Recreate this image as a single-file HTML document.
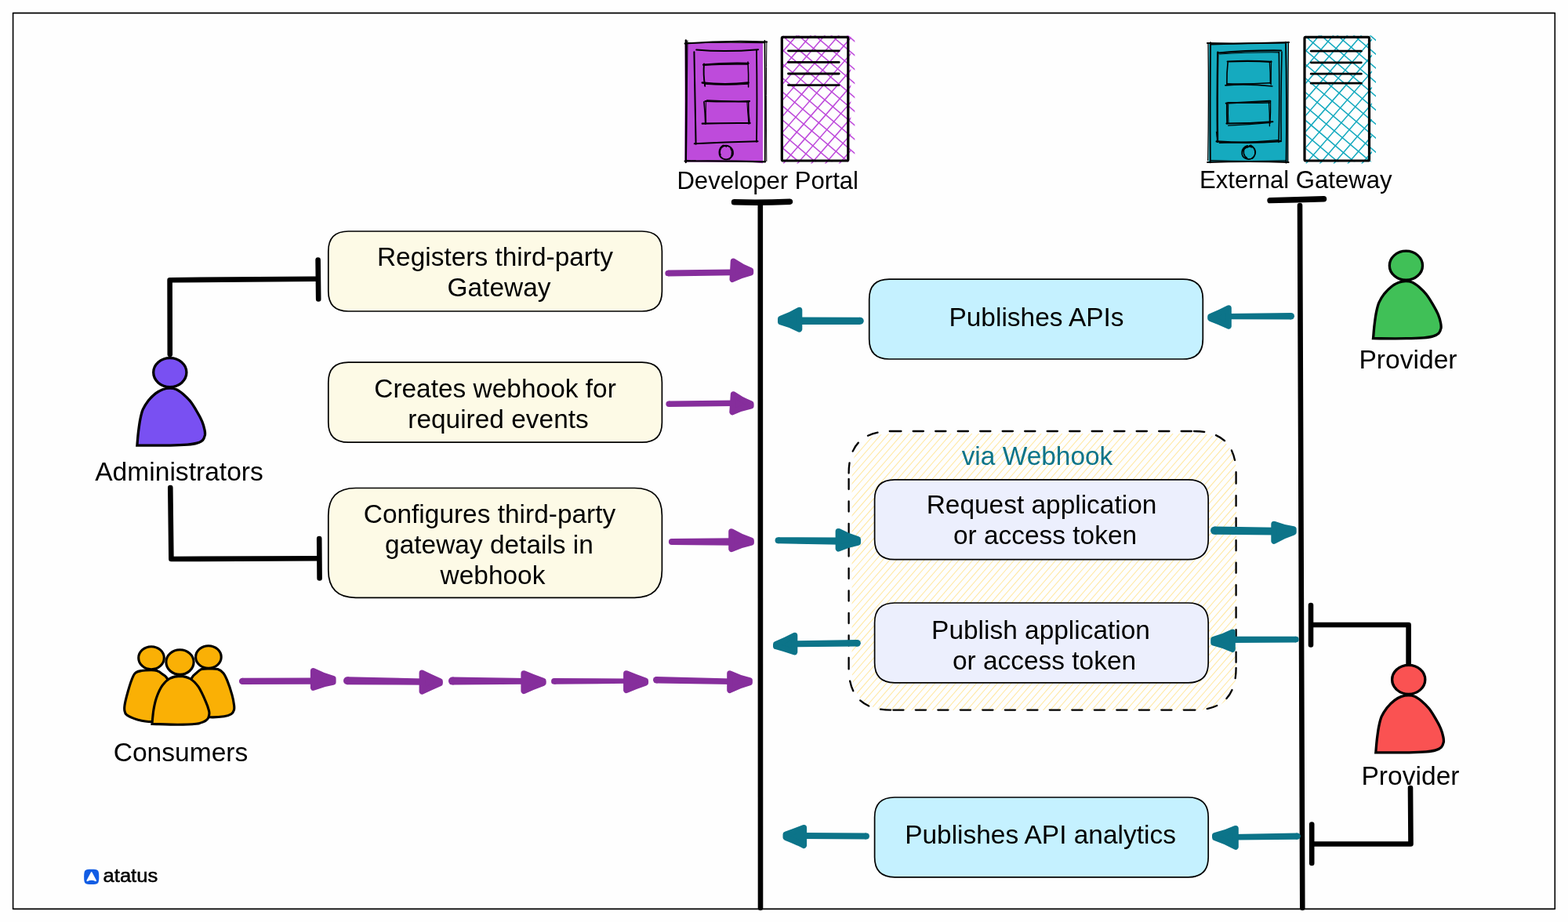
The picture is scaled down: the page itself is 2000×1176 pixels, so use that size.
<!DOCTYPE html>
<html lang="en">
<head>
<meta charset="utf-8">
<title>Developer Portal and External Gateway flow</title>
<style>
html,body{margin:0;padding:0;background:#fefefe;}
body{width:2000px;height:1176px;overflow:hidden;}
svg{display:block;will-change:transform;font-family:"Liberation Sans",Arial,Helvetica,sans-serif;}
</style>
</head>
<body>
<svg width="2000" height="1176" viewBox="0 0 2000 1176">
<rect x="16.6" y="16.6" width="1966.7" height="1142.8" fill="none" stroke="#000" stroke-width="1.6" stroke-linejoin="round"/>
<clipPath id="wc"><path d="M1138.20 553.00L1525.40 553.00Q1577.00 553.00 1577.00 604.60L1577.00 854.20Q1577.00 905.80 1525.40 905.80L1138.20 905.80Q1086.60 905.80 1086.60 854.20L1086.60 604.60Q1086.60 553.00 1138.20 553.00Z"/></clipPath>
<path d="M763.4 907.6L1076.1 548.0M772.2 907.6L1084.9 548.0M781.1 907.6L1093.8 548.0M789.9 907.6L1102.6 548.0M798.7 907.6L1111.4 548.0M807.6 907.6L1120.3 548.0M816.4 907.6L1129.1 548.0M825.3 907.6L1138.0 548.0M834.1 907.6L1146.8 548.0M842.9 907.6L1155.6 548.0M851.8 907.6L1164.5 548.0M860.6 907.6L1173.3 548.0M869.5 907.6L1182.2 548.0M878.3 907.6L1191.0 548.0M887.1 907.6L1199.8 548.0M896.0 907.6L1208.7 548.0M904.8 907.6L1217.5 548.0M913.7 907.6L1226.4 548.0M922.5 907.6L1235.2 548.0M931.3 907.6L1244.0 548.0M940.2 907.6L1252.9 548.0M949.0 907.6L1261.7 548.0M957.9 907.6L1270.6 548.0M966.7 907.6L1279.4 548.0M975.5 907.6L1288.2 548.0M984.4 907.6L1297.1 548.0M993.2 907.6L1305.9 548.0M1002.1 907.6L1314.8 548.0M1010.9 907.6L1323.6 548.0M1019.7 907.6L1332.4 548.0M1028.6 907.6L1341.3 548.0M1037.4 907.6L1350.1 548.0M1046.3 907.6L1359.0 548.0M1055.1 907.6L1367.8 548.0M1063.9 907.6L1376.6 548.0M1072.8 907.6L1385.5 548.0M1081.6 907.6L1394.3 548.0M1090.5 907.6L1403.2 548.0M1099.3 907.6L1412.0 548.0M1108.1 907.6L1420.8 548.0M1117.0 907.6L1429.7 548.0M1125.8 907.6L1438.5 548.0M1134.7 907.6L1447.4 548.0M1143.5 907.6L1456.2 548.0M1152.3 907.6L1465.0 548.0M1161.2 907.6L1473.9 548.0M1170.0 907.6L1482.7 548.0M1178.9 907.6L1491.6 548.0M1187.7 907.6L1500.4 548.0M1196.5 907.6L1509.2 548.0M1205.4 907.6L1518.1 548.0M1214.2 907.6L1526.9 548.0M1223.1 907.6L1535.8 548.0M1231.9 907.6L1544.6 548.0M1240.7 907.6L1553.4 548.0M1249.6 907.6L1562.3 548.0M1258.4 907.6L1571.1 548.0M1267.3 907.6L1580.0 548.0M1276.1 907.6L1588.8 548.0M1284.9 907.6L1597.6 548.0M1293.8 907.6L1606.5 548.0M1302.6 907.6L1615.3 548.0M1311.5 907.6L1624.2 548.0M1320.3 907.6L1633.0 548.0M1329.1 907.6L1641.8 548.0M1338.0 907.6L1650.7 548.0M1346.8 907.6L1659.5 548.0M1355.7 907.6L1668.4 548.0M1364.5 907.6L1677.2 548.0M1373.3 907.6L1686.0 548.0M1382.2 907.6L1694.9 548.0M1391.0 907.6L1703.7 548.0M1399.9 907.6L1712.6 548.0M1408.7 907.6L1721.4 548.0M1417.5 907.6L1730.2 548.0M1426.4 907.6L1739.1 548.0M1435.2 907.6L1747.9 548.0M1444.1 907.6L1756.8 548.0M1452.9 907.6L1765.6 548.0M1461.7 907.6L1774.4 548.0M1470.6 907.6L1783.3 548.0M1479.4 907.6L1792.1 548.0M1488.3 907.6L1801.0 548.0M1497.1 907.6L1809.8 548.0M1505.9 907.6L1818.6 548.0M1514.8 907.6L1827.5 548.0M1523.6 907.6L1836.3 548.0M1532.5 907.6L1845.2 548.0M1541.3 907.6L1854.0 548.0M1550.1 907.6L1862.8 548.0M1559.0 907.6L1871.7 548.0M1567.8 907.6L1880.5 548.0M1576.7 907.6L1889.4 548.0M1585.5 907.6L1898.2 548.0" stroke="#ffe8a3" stroke-width="1.05" fill="none" clip-path="url(#wc)"/>
<path d="M1136.20 550.00L1523.00 550.00M1523.00 550.00Q1576.60 550.00 1576.60 603.60M1576.60 603.60L1576.60 852.00M1576.60 852.00Q1576.60 905.60 1523.00 905.60M1523.00 905.60L1136.20 905.60M1136.20 905.60Q1082.60 905.60 1082.60 852.00M1082.60 852.00L1082.60 603.60M1082.60 603.60Q1082.60 550.00 1136.20 550.00" fill="none" stroke="#000" stroke-width="2.3" stroke-linecap="round" stroke-dasharray="13.2 15.3"/>
<path d="M969.8 260 L970 1158" stroke="#000" fill="none" stroke-linecap="round" stroke-linejoin="round" stroke-width="6.6"/>
<path d="M936.5 257.8 Q970 258.8 1007.5 257.2" stroke="#000" fill="none" stroke-linecap="round" stroke-linejoin="round" stroke-width="7.4"/>
<path d="M1658 262 L1661.3 1158" stroke="#000" fill="none" stroke-linecap="round" stroke-linejoin="round" stroke-width="6.6"/>
<path d="M1620 255.6 Q1655 255 1688.5 253.8" stroke="#000" fill="none" stroke-linecap="round" stroke-linejoin="round" stroke-width="7.4"/>
<path d="M216.8 452 L216.6 357.2 L404 355.8" stroke="#000" fill="none" stroke-linecap="round" stroke-linejoin="round" stroke-width="6.6"/>
<path d="M405.6 331.5 L406.2 381.5" stroke="#000" fill="none" stroke-linecap="round" stroke-linejoin="round" stroke-width="6.6"/>
<path d="M217.3 622 L218.4 713 L404 712.2" stroke="#000" fill="none" stroke-linecap="round" stroke-linejoin="round" stroke-width="6.6"/>
<path d="M407.2 687 L407.6 737.5" stroke="#000" fill="none" stroke-linecap="round" stroke-linejoin="round" stroke-width="6.6"/>
<path d="M1796.6 848 L1796.6 797 L1673 797" stroke="#000" fill="none" stroke-linecap="round" stroke-linejoin="round" stroke-width="6.6"/>
<path d="M1672 772 L1672 822.5" stroke="#000" fill="none" stroke-linecap="round" stroke-linejoin="round" stroke-width="6.6"/>
<path d="M1799 1005 L1799.5 1076.5 L1674 1076.5" stroke="#000" fill="none" stroke-linecap="round" stroke-linejoin="round" stroke-width="6.6"/>
<path d="M1673.2 1051.5 L1673.2 1101" stroke="#000" fill="none" stroke-linecap="round" stroke-linejoin="round" stroke-width="6.6"/>
<path d="M444.30 295.00L818.90 295.00Q844.40 295.00 844.40 320.50L844.40 371.50Q844.40 397.00 818.90 397.00L444.30 397.00Q418.80 397.00 418.80 371.50L418.80 320.50Q418.80 295.00 444.30 295.00Z" fill="#fdfae6" stroke="#000" stroke-width="1.7" />
<path d="M444.30 462.20L818.90 462.20Q844.40 462.20 844.40 487.70L844.40 538.70Q844.40 564.20 818.90 564.20L444.30 564.20Q418.80 564.20 418.80 538.70L418.80 487.70Q418.80 462.20 444.30 462.20Z" fill="#fdfae6" stroke="#000" stroke-width="1.7" />
<path d="M453.75 622.50L809.45 622.50Q844.40 622.50 844.40 657.45L844.40 727.35Q844.40 762.30 809.45 762.30L453.75 762.30Q418.80 762.30 418.80 727.35L418.80 657.45Q418.80 622.50 453.75 622.50Z" fill="#fdfae6" stroke="#000" stroke-width="1.7" />
<path d="M1134.15 356.20L1508.85 356.20Q1534.30 356.20 1534.30 381.65L1534.30 432.55Q1534.30 458.00 1508.85 458.00L1134.15 458.00Q1108.70 458.00 1108.70 432.55L1108.70 381.65Q1108.70 356.20 1134.15 356.20Z" fill="#c5f1ff" stroke="#000" stroke-width="1.7" />
<path d="M1141.05 611.80L1515.75 611.80Q1541.20 611.80 1541.20 637.25L1541.20 688.15Q1541.20 713.60 1515.75 713.60L1141.05 713.60Q1115.60 713.60 1115.60 688.15L1115.60 637.25Q1115.60 611.80 1141.05 611.80Z" fill="#eceffd" stroke="#000" stroke-width="1.7" />
<path d="M1141.05 769.00L1515.75 769.00Q1541.20 769.00 1541.20 794.45L1541.20 845.35Q1541.20 870.80 1515.75 870.80L1141.05 870.80Q1115.60 870.80 1115.60 845.35L1115.60 794.45Q1115.60 769.00 1141.05 769.00Z" fill="#eceffd" stroke="#000" stroke-width="1.7" />
<path d="M1141.05 1017.00L1515.75 1017.00Q1541.20 1017.00 1541.20 1042.45L1541.20 1093.35Q1541.20 1118.80 1515.75 1118.80L1141.05 1118.80Q1115.60 1118.80 1115.60 1093.35L1115.60 1042.45Q1115.60 1017.00 1141.05 1017.00Z" fill="#c5f1ff" stroke="#000" stroke-width="1.7" />
<text x="631.5" y="339" font-size="33.45" fill="#000" text-anchor="middle" >Registers third-party</text>
<text x="636.5" y="377.5" font-size="33.45" fill="#000" text-anchor="middle" >Gateway</text>
<text x="631.5" y="506.5" font-size="33.45" fill="#000" text-anchor="middle" >Creates webhook for</text>
<text x="635.5" y="545.5" font-size="33.45" fill="#000" text-anchor="middle" >required events</text>
<text x="624.5" y="667" font-size="33.45" fill="#000" text-anchor="middle" >Configures third-party</text>
<text x="624" y="706" font-size="33.45" fill="#000" text-anchor="middle" >gateway details in</text>
<text x="628.5" y="745" font-size="33.45" fill="#000" text-anchor="middle" >webhook</text>
<text x="1322" y="416" font-size="33.45" fill="#000" text-anchor="middle" >Publishes APIs</text>
<text x="1323" y="593" font-size="33.45" fill="#0c7489" text-anchor="middle" >via Webhook</text>
<text x="1328.5" y="655" font-size="33.45" fill="#000" text-anchor="middle" >Request application</text>
<text x="1333" y="694" font-size="33.45" fill="#000" text-anchor="middle" >or access token</text>
<text x="1327.5" y="815" font-size="33.45" fill="#000" text-anchor="middle" >Publish application</text>
<text x="1332" y="854" font-size="33.45" fill="#000" text-anchor="middle" >or access token</text>
<text x="1327" y="1076" font-size="33.45" fill="#000" text-anchor="middle" >Publishes API analytics</text>
<text x="979.2" y="240.7" font-size="31.1" fill="#000" text-anchor="middle" >Developer Portal</text>
<text x="1652.8" y="240.3" font-size="31.1" fill="#000" text-anchor="middle" >External Gateway</text>
<text x="228.5" y="613" font-size="33.6" fill="#000" text-anchor="middle" >Administrators</text>
<text x="230.5" y="970.6" font-size="33.6" fill="#000" text-anchor="middle" >Consumers</text>
<text x="1796" y="470" font-size="33.6" fill="#000" text-anchor="middle" >Provider</text>
<text x="1799" y="1001" font-size="33.6" fill="#000" text-anchor="middle" >Provider</text>
<circle cx="852.2" cy="348.5" r="3.85" fill="#862e9c"/>
<path d="M852.2 344.6L935.9 343.5L935.9 351.2L852.2 352.4Z" fill="#862e9c"/>
<path d="M935.5 333.4Q946.0 340.6 957.4 345.1L957.4 347.7Q945.3 350.6 934.3 356.2Z" fill="#862e9c" stroke="#862e9c" stroke-width="7.6" stroke-linejoin="round"/>
<circle cx="853.1" cy="515.2" r="3.70" fill="#862e9c"/>
<path d="M853.1 511.5L936.3 510.6L936.3 518.0L853.1 518.9Z" fill="#862e9c"/>
<path d="M935.6 503.0Q946.2 510.4 957.8 515.1L957.8 517.7Q945.4 520.2 934.1 525.5Z" fill="#862e9c" stroke="#862e9c" stroke-width="7.6" stroke-linejoin="round"/>
<circle cx="856.9" cy="691.0" r="4.00" fill="#862e9c"/>
<path d="M856.9 687.0L935.2 686.3L935.2 695.7L856.9 695.0Z" fill="#862e9c"/>
<path d="M933.0 678.0Q945.0 685.1 958.1 689.4L958.1 692.0Q945.0 694.7 933.0 700.2Z" fill="#862e9c" stroke="#862e9c" stroke-width="7.6" stroke-linejoin="round"/>
<circle cx="309.1" cy="868.9" r="4.20" fill="#862e9c"/>
<path d="M309.1 864.7L401.9 864.4L401.9 872.8L309.1 873.1Z" fill="#862e9c"/>
<path d="M399.7 855.9Q411.8 862.2 424.8 865.7L424.8 870.1Q411.8 872.1 399.7 877.0Z" fill="#862e9c" stroke="#862e9c" stroke-width="7.6" stroke-linejoin="round"/>
<circle cx="443.0" cy="868.2" r="5.00" fill="#862e9c"/>
<path d="M443.0 863.2L540.6 865.4L540.6 873.8L443.0 873.2Z" fill="#862e9c"/>
<path d="M538.4 858.4Q549.2 863.7 561.1 869.0L561.1 871.6Q549.2 876.8 538.4 881.9Z" fill="#862e9c" stroke="#862e9c" stroke-width="7.6" stroke-linejoin="round"/>
<circle cx="577.0" cy="868.6" r="5.00" fill="#862e9c"/>
<path d="M577.0 863.6L670.4 865.0L670.4 872.8L577.0 873.6Z" fill="#862e9c"/>
<path d="M668.2 859.1Q680.0 864.2 692.9 868.7L692.9 871.3Q680.0 876.0 668.2 881.2Z" fill="#862e9c" stroke="#862e9c" stroke-width="7.6" stroke-linejoin="round"/>
<circle cx="706.9" cy="868.9" r="3.85" fill="#862e9c"/>
<path d="M706.9 865.0L801.1 865.4L801.1 871.8L706.9 872.8Z" fill="#862e9c"/>
<path d="M798.9 859.1Q810.6 864.0 823.3 868.3L823.3 870.9Q810.6 875.2 798.9 880.2Z" fill="#862e9c" stroke="#862e9c" stroke-width="7.6" stroke-linejoin="round"/>
<circle cx="837.2" cy="867.2" r="4.20" fill="#862e9c"/>
<path d="M837.2 863.0L933.2 865.4L933.2 873.1L837.2 871.4Z" fill="#862e9c"/>
<path d="M931.0 859.1Q943.0 864.9 956.1 868.0L956.1 870.6Q943.0 874.0 931.0 880.2Z" fill="#862e9c" stroke="#862e9c" stroke-width="7.6" stroke-linejoin="round"/>
<circle cx="1097.2" cy="409.3" r="4.55" fill="#0c7489"/>
<path d="M1097.2 404.8L1017.3 404.5L1017.3 414.1L1097.2 413.9Z" fill="#0c7489"/>
<path d="M1019.5 395.6Q1008.1 402.5 995.8 406.6L995.8 410.6Q1008.1 413.8 1019.5 419.8Z" fill="#0c7489" stroke="#0c7489" stroke-width="7.6" stroke-linejoin="round"/>
<circle cx="1646.8" cy="403.2" r="4.20" fill="#0c7489"/>
<path d="M1646.8 399.0L1564.8 400.0L1564.8 407.2L1646.8 407.4Z" fill="#0c7489"/>
<path d="M1567.0 393.0Q1556.0 398.7 1544.0 403.7L1544.0 406.3Q1556.0 410.8 1567.0 415.9Z" fill="#0c7489" stroke="#0c7489" stroke-width="7.6" stroke-linejoin="round"/>
<circle cx="992.6" cy="689.3" r="4.00" fill="#0c7489"/>
<path d="M992.6 685.3L1071.6 685.4L1071.6 694.8L992.6 693.3Z" fill="#0c7489"/>
<path d="M1069.4 677.7Q1081.3 684.2 1094.2 688.0L1094.2 692.0Q1081.3 694.5 1069.4 699.8Z" fill="#0c7489" stroke="#0c7489" stroke-width="7.6" stroke-linejoin="round"/>
<circle cx="1549.2" cy="676.6" r="5.20" fill="#0c7489"/>
<path d="M1549.2 671.4L1627.3 672.8L1627.3 682.6L1549.2 681.8Z" fill="#0c7489"/>
<path d="M1625.1 668.5Q1637.0 673.1 1649.9 675.0L1649.9 679.0Q1637.0 683.1 1625.1 690.0Z" fill="#0c7489" stroke="#0c7489" stroke-width="7.6" stroke-linejoin="round"/>
<circle cx="1093.5" cy="820.3" r="4.35" fill="#0c7489"/>
<path d="M1093.5 815.9L1011.3 817.2L1011.3 825.2L1093.5 824.6Z" fill="#0c7489"/>
<path d="M1013.5 810.5Q1002.1 816.4 989.8 821.8L989.8 824.4Q1002.1 827.8 1013.5 831.6Z" fill="#0c7489" stroke="#0c7489" stroke-width="7.6" stroke-linejoin="round"/>
<circle cx="1652.9" cy="815.6" r="3.85" fill="#0c7489"/>
<path d="M1652.9 811.8L1569.8 811.7L1569.8 820.1L1652.9 819.5Z" fill="#0c7489"/>
<path d="M1572.0 806.4Q1560.5 812.4 1548.0 815.7L1548.0 819.7Q1560.5 822.6 1572.0 828.2Z" fill="#0c7489" stroke="#0c7489" stroke-width="7.6" stroke-linejoin="round"/>
<circle cx="1104.9" cy="1066.6" r="4.00" fill="#0c7489"/>
<path d="M1104.9 1062.6L1023.1 1062.1L1023.1 1070.1L1104.9 1070.6Z" fill="#0c7489"/>
<path d="M1025.3 1055.7Q1014.3 1060.2 1002.3 1064.3L1002.3 1068.3Q1014.3 1073.0 1025.3 1078.2Z" fill="#0c7489" stroke="#0c7489" stroke-width="7.6" stroke-linejoin="round"/>
<circle cx="1654.7" cy="1066.6" r="4.20" fill="#0c7489"/>
<path d="M1654.7 1062.4L1573.8 1063.9L1573.8 1071.5L1654.7 1070.8Z" fill="#0c7489"/>
<path d="M1576.0 1056.8Q1563.4 1062.7 1549.8 1065.7L1549.8 1068.3Q1563.4 1072.8 1576.0 1080.0Z" fill="#0c7489" stroke="#0c7489" stroke-width="7.6" stroke-linejoin="round"/>
<path d="M174.9 568.1C175.2 565.2 175.8 556.3 176.5 550.7C177.2 545.1 177.9 539.3 178.9 534.6C179.9 529.8 180.6 526.1 182.3 522.2C184.1 518.3 186.6 514.4 189.2 511.0C191.9 507.7 195.4 504.2 198.4 501.9C201.5 499.5 204.6 497.8 207.6 496.7C210.6 495.6 213.4 495.1 216.2 495.1C219.0 495.0 221.6 495.2 224.5 496.5C227.4 497.7 230.6 500.1 233.7 502.7C236.7 505.3 240.0 508.4 242.9 512.1C245.7 515.7 248.4 520.2 250.9 524.5C253.4 528.7 256.1 533.6 257.8 537.6C259.5 541.6 260.4 545.5 261.0 548.4C261.6 551.3 261.8 552.8 261.4 555.0C260.9 557.2 260.2 559.8 258.5 561.5C256.8 563.2 254.5 564.3 251.3 565.2C248.0 566.2 244.8 566.7 239.2 567.2C233.5 567.7 228.1 568.0 217.4 568.1C206.7 568.3 182.0 568.1 174.9 568.1Z" fill="#7950f2" stroke="#000" stroke-width="3.3" stroke-linejoin="miter"/>
<ellipse cx="216.8" cy="475.1" rx="21.1" ry="18.5" fill="#7950f2" stroke="#000" stroke-width="3.3"/>
<path d="M1751.5 431.7C1751.8 428.8 1752.4 419.9 1753.1 414.3C1753.8 408.7 1754.5 402.9 1755.5 398.2C1756.5 393.4 1757.2 389.7 1758.9 385.8C1760.7 381.9 1763.2 378.0 1765.8 374.6C1768.5 371.3 1772.0 367.8 1775.0 365.5C1778.1 363.1 1781.2 361.4 1784.2 360.3C1787.2 359.2 1790.0 358.7 1792.8 358.7C1795.6 358.6 1798.2 358.8 1801.1 360.1C1804.0 361.3 1807.2 363.7 1810.3 366.3C1813.3 368.9 1816.6 372.0 1819.5 375.7C1822.3 379.3 1825.0 383.8 1827.5 388.1C1830.0 392.3 1832.7 397.2 1834.4 401.2C1836.1 405.2 1837.0 409.1 1837.6 412.0C1838.2 414.9 1838.4 416.4 1838.0 418.6C1837.5 420.8 1836.8 423.4 1835.1 425.1C1833.4 426.8 1831.1 427.9 1827.9 428.8C1824.6 429.8 1821.4 430.3 1815.8 430.8C1810.1 431.3 1804.7 431.6 1794.0 431.7C1783.3 431.9 1758.6 431.7 1751.5 431.7Z" fill="#40c057" stroke="#000" stroke-width="3.3" stroke-linejoin="miter"/>
<ellipse cx="1793.4" cy="338.7" rx="21.1" ry="18.5" fill="#40c057" stroke="#000" stroke-width="3.3"/>
<path d="M1754.8 959.8C1755.1 956.9 1755.7 948.0 1756.4 942.4C1757.1 936.8 1757.8 931.0 1758.8 926.3C1759.8 921.5 1760.5 917.8 1762.2 913.9C1764.0 910.0 1766.5 906.1 1769.1 902.7C1771.8 899.4 1775.3 895.9 1778.3 893.6C1781.4 891.2 1784.5 889.5 1787.5 888.4C1790.5 887.3 1793.3 886.8 1796.1 886.8C1798.9 886.7 1801.5 886.9 1804.4 888.2C1807.3 889.4 1810.5 891.8 1813.6 894.4C1816.6 897.0 1819.9 900.1 1822.8 903.8C1825.6 907.4 1828.3 911.9 1830.8 916.2C1833.3 920.4 1836.0 925.3 1837.7 929.3C1839.4 933.3 1840.3 937.2 1840.9 940.1C1841.5 943.0 1841.7 944.5 1841.3 946.7C1840.8 948.9 1840.1 951.5 1838.4 953.2C1836.7 954.9 1834.4 956.0 1831.2 956.9C1827.9 957.9 1824.7 958.4 1819.1 958.9C1813.4 959.4 1808.0 959.7 1797.3 959.8C1786.6 960.0 1761.9 959.8 1754.8 959.8Z" fill="#fa5252" stroke="#000" stroke-width="3.3" stroke-linejoin="miter"/>
<ellipse cx="1796.7" cy="866.8" rx="21.1" ry="18.5" fill="#fa5252" stroke="#000" stroke-width="3.3"/>
<path d="M193.0 854.8C189.7 854.8 184.1 854.9 180.7 855.5C177.3 856.1 174.7 856.4 172.6 858.4C170.4 860.3 169.5 863.2 168.0 867.0C166.4 870.9 164.8 876.4 163.4 881.3C162.0 886.3 160.3 892.6 159.5 896.6C158.7 900.7 158.4 903.3 158.8 905.8C159.2 908.4 159.0 909.9 161.8 911.9C164.6 913.9 170.3 916.4 175.6 917.9C181.0 919.3 188.9 920.7 194.0 920.6C199.1 920.5 202.5 921.0 206.2 917.0C210.0 913.0 215.1 904.8 216.4 896.6C217.8 888.5 216.1 874.3 214.4 868.1C212.7 861.8 208.6 861.2 206.2 859.1C203.8 857.0 202.3 856.3 200.1 855.6C197.9 854.9 196.2 854.8 193.0 854.8Z" fill="#fab005" stroke="#000" stroke-width="3.1" stroke-linejoin="miter"/>
<path d="M267.4 853.0C264.0 853.0 260.0 852.8 257.2 853.6C254.5 854.4 253.2 856.0 251.1 857.9C249.0 859.8 246.9 860.2 244.5 865.0C242.1 869.8 236.4 878.6 236.8 886.4C237.3 894.3 241.9 907.2 247.0 911.9C252.1 916.7 261.0 914.5 267.4 914.8C273.9 915.1 281.2 914.5 285.8 913.8C290.4 913.1 292.9 912.0 295.0 910.7C297.1 909.4 297.8 907.7 298.4 905.8C299.0 904.0 299.0 902.9 298.6 899.7C298.2 896.5 297.5 891.7 296.0 886.4C294.6 881.2 291.8 872.7 289.9 868.1C288.0 863.4 286.8 860.8 284.8 858.4C282.8 856.0 280.5 854.5 277.7 853.6C274.8 852.7 270.9 853.0 267.4 853.0Z" fill="#fab005" stroke="#000" stroke-width="3.1" stroke-linejoin="miter"/>
<ellipse cx="193.0" cy="839.2" rx="16.3" ry="14.5" fill="#fab005" stroke="#000" stroke-width="3.1"/>
<ellipse cx="265.9" cy="838.0" rx="16.3" ry="14.3" fill="#fab005" stroke="#000" stroke-width="3.1"/>
<path d="M194.0 923.4C194.3 920.3 195.0 910.6 196.0 904.8C197.0 899.0 198.2 893.6 200.1 888.5C202.0 883.4 204.5 878.0 207.2 874.2C210.0 870.4 212.7 867.5 216.4 865.5C220.1 863.6 225.1 862.4 229.5 862.4C233.9 862.5 239.0 863.7 243.0 866.0C246.9 868.3 249.9 871.5 253.2 876.2C256.4 881.0 260.1 889.5 262.3 894.6C264.6 899.7 265.9 903.9 266.6 906.8C267.3 909.8 267.0 910.7 266.6 912.4C266.3 914.2 265.9 915.8 264.6 917.2C263.3 918.7 261.5 919.9 259.1 920.9C256.7 921.9 255.5 922.6 250.1 923.2C244.7 923.7 236.0 924.1 226.6 924.2C217.3 924.2 199.4 923.5 194.0 923.4Z" fill="#fab005" stroke="#000" stroke-width="3.1" stroke-linejoin="miter"/>
<ellipse cx="229.5" cy="844.6" rx="17.6" ry="15.8" fill="#fab005" stroke="#000" stroke-width="3.1"/>
<path d="M873.6 54.9L973.0 54.3L973.0 208.2L960.2 207.0L873.3 206.4Z" fill="#be4bdb"/>
<path d="M874.8 51.3Q875.7 129.3 874.8 207.0" fill="none" stroke="#000" stroke-linecap="round" stroke-linejoin="round" stroke-width="2.3"/>
<path d="M876.9 51.9Q876.3 114.4 875.4 205.2" fill="none" stroke="#000" stroke-linecap="round" stroke-linejoin="round" stroke-width="1.2"/>
<path d="M873.6 55.5Q924.5 51.6 978.1 53.4" fill="none" stroke="#000" stroke-linecap="round" stroke-linejoin="round" stroke-width="2.0"/>
<path d="M876.9 54.9Q924.5 53.7 975.1 54.6" fill="none" stroke="#000" stroke-linecap="round" stroke-linejoin="round" stroke-width="1.1"/>
<path d="M975.4 51.9Q976.3 129.3 975.7 206.1" fill="none" stroke="#000" stroke-linecap="round" stroke-linejoin="round" stroke-width="1.8"/>
<path d="M977.9 52.8Q976.9 114.4 977.8 205.5" fill="none" stroke="#000" stroke-linecap="round" stroke-linejoin="round" stroke-width="1.0"/>
<path d="M873.6 205.5Q924.5 204.9 976.0 206.4" fill="none" stroke="#000" stroke-linecap="round" stroke-linejoin="round" stroke-width="2.2"/>
<path d="M875.4 204.3Q881.4 205.2 887.3 204.9" fill="none" stroke="#000" stroke-linecap="round" stroke-linejoin="round" stroke-width="1.0"/>
<path d="M885.4 66.2Q886.7 129.3 887.6 183.8" fill="none" stroke="#000" stroke-linecap="round" stroke-linejoin="round" stroke-width="2.0"/>
<path d="M888.2 63.5Q924.5 66.8 967.1 63.2" fill="none" stroke="#000" stroke-linecap="round" stroke-linejoin="round" stroke-width="2.0"/>
<path d="M965.0 64.1Q965.9 129.3 965.0 180.8" fill="none" stroke="#000" stroke-linecap="round" stroke-linejoin="round" stroke-width="1.8"/>
<path d="M885.8 183.2Q924.5 181.4 966.5 180.2" fill="none" stroke="#000" stroke-linecap="round" stroke-linejoin="round" stroke-width="2.1"/>
<path d="M897.1 82.6Q926.0 79.9 954.6 80.8" fill="none" stroke="#000" stroke-linecap="round" stroke-linejoin="round" stroke-width="2.3"/>
<path d="M898.0 81.4Q896.8 95.1 899.2 109.9" fill="none" stroke="#000" stroke-linecap="round" stroke-linejoin="round" stroke-width="1.9"/>
<path d="M954.0 79.0Q954.9 95.1 954.6 111.1" fill="none" stroke="#000" stroke-linecap="round" stroke-linejoin="round" stroke-width="1.5"/>
<path d="M895.7 105.5Q924.5 108.8 954.6 105.5" fill="none" stroke="#000" stroke-linecap="round" stroke-linejoin="round" stroke-width="2.3"/>
<path d="M899.5 83.2Q926.0 81.7 953.7 82.3" fill="none" stroke="#000" stroke-linecap="round" stroke-linejoin="round" stroke-width="1.1"/>
<path d="M898.6 107.3Q924.5 109.3 954.0 107.3" fill="none" stroke="#000" stroke-linecap="round" stroke-linejoin="round" stroke-width="1.1"/>
<path d="M899.5 129.0Q927.5 130.2 956.1 129.0" fill="none" stroke="#000" stroke-linecap="round" stroke-linejoin="round" stroke-width="2.0"/>
<path d="M901.6 127.8Q927.5 129.0 955.2 130.2" fill="none" stroke="#000" stroke-linecap="round" stroke-linejoin="round" stroke-width="1.2"/>
<path d="M898.0 129.9Q899.5 144.2 899.8 158.2" fill="none" stroke="#000" stroke-linecap="round" stroke-linejoin="round" stroke-width="1.7"/>
<path d="M900.4 130.2Q900.1 144.2 900.7 157.3" fill="none" stroke="#000" stroke-linecap="round" stroke-linejoin="round" stroke-width="1.0"/>
<path d="M954.6 128.7Q954.3 144.2 956.1 157.6" fill="none" stroke="#000" stroke-linecap="round" stroke-linejoin="round" stroke-width="1.6"/>
<path d="M952.8 129.3Q953.7 144.2 954.9 158.5" fill="none" stroke="#000" stroke-linecap="round" stroke-linejoin="round" stroke-width="1.0"/>
<path d="M895.7 157.6Q926.0 156.7 956.7 157.0" fill="none" stroke="#000" stroke-linecap="round" stroke-linejoin="round" stroke-width="2.1"/>
<path d="M922.3 185.5C916.3 188.8 915.3 199.2 922.3 202.5C929.0 205.5 936.1 200.0 934.9 193.3C933.8 187.3 927.5 184.3 922.3 186.6C917.8 188.8 917.4 194.8 918.9 197.7" fill="none" stroke="#000" stroke-linecap="round" stroke-linejoin="round" stroke-width="1.8"/>
<path d="M920.4 187.6C922.3 185.1 925.3 184.6 926.3 187.3M931.7 188.8C934.6 193.3 933.8 200.0 930.2 203.1" fill="none" stroke="#000" stroke-linecap="round" stroke-linejoin="round" stroke-width="1.4"/>
<clipPath id="h1a"><rect x="998.8" y="45.3" width="91.5" height="160.89999999999998"/></clipPath>
<clipPath id="h1b"><rect x="998.8" y="45.3" width="86.5" height="163.2"/></clipPath>
<path d="M996.8 -26.6L1092.3 54.6M996.8 -8.7L1092.3 72.4M996.8 9.1L1092.3 90.3M996.8 27.0L1092.3 108.1M996.8 44.8L1092.3 126.0M996.8 62.7L1092.3 143.8M996.8 80.5L1092.3 161.7M996.8 98.4L1092.3 179.5M996.8 116.2L1092.3 197.4M996.8 134.1L1092.3 215.2M996.8 151.9L1092.3 233.1M996.8 169.8L1092.3 250.9M996.8 187.6L1092.3 268.8M996.8 205.5L1092.3 286.6" stroke="#be4bdb" stroke-width="1.55" fill="none" clip-path="url(#h1a)"/>
<path d="M1000.1 43.3L854.7 210.5M1018.0 43.3L872.6 210.5M1035.8 43.3L890.4 210.5M1053.7 43.3L908.3 210.5M1071.5 43.3L926.1 210.5M1089.4 43.3L944.0 210.5M1107.2 43.3L961.8 210.5M1125.1 43.3L979.7 210.5M1142.9 43.3L997.5 210.5M1160.8 43.3L1015.4 210.5M1178.6 43.3L1033.2 210.5M1196.5 43.3L1051.1 210.5M1214.3 43.3L1068.9 210.5M1232.2 43.3L1086.8 210.5" stroke="#be4bdb" stroke-width="1.55" fill="none" clip-path="url(#h1b)"/>
<rect x="997.3" y="47.3" width="84.5" height="157.7" rx="1.5" fill="none" stroke="#000" stroke-width="3.2" stroke-linejoin="round"/>
<path d="M1005.5 64.8L1070.2 64.8" stroke="#000" stroke-width="2.8" stroke-linecap="round"/>
<path d="M1005.5 79.4L1070.2 79.4" stroke="#000" stroke-width="2.8" stroke-linecap="round"/>
<path d="M1005.5 94L1070.2 94" stroke="#000" stroke-width="2.8" stroke-linecap="round"/>
<path d="M1005.5 108.6L1070.2 108.6" stroke="#000" stroke-width="2.8" stroke-linecap="round"/>
<path d="M1541.6 55.2L1642.7 54.3L1642.7 206.6L1541.6 206.7Z" fill="#15aabf"/>
<path d="M1541.0 54.9Q1541.9 126.8 1540.7 204.6" fill="none" stroke="#000" stroke-linecap="round" stroke-linejoin="round" stroke-width="1.3"/>
<path d="M1544.1 54.1Q1543.2 126.8 1543.8 207.2" fill="none" stroke="#000" stroke-linecap="round" stroke-linejoin="round" stroke-width="1.9"/>
<path d="M1539.9 55.1Q1591.2 56.1 1644.0 54.0" fill="none" stroke="#000" stroke-linecap="round" stroke-linejoin="round" stroke-width="2.0"/>
<path d="M1545.3 56.7Q1591.2 55.2 1639.4 54.9" fill="none" stroke="#000" stroke-linecap="round" stroke-linejoin="round" stroke-width="1.4"/>
<path d="M1639.9 53.7Q1641.7 126.8 1640.5 207.7" fill="none" stroke="#000" stroke-linecap="round" stroke-linejoin="round" stroke-width="1.8"/>
<path d="M1643.4 53.4Q1642.7 126.8 1642.8 207.4" fill="none" stroke="#000" stroke-linecap="round" stroke-linejoin="round" stroke-width="1.3"/>
<path d="M1540.1 207.0Q1591.2 205.2 1643.6 206.9" fill="none" stroke="#000" stroke-linecap="round" stroke-linejoin="round" stroke-width="2.0"/>
<path d="M1544.5 204.6Q1591.2 206.4 1640.2 204.9" fill="none" stroke="#000" stroke-linecap="round" stroke-linejoin="round" stroke-width="1.3"/>
<path d="M1553.3 66.8Q1552.3 126.8 1553.0 180.7" fill="none" stroke="#000" stroke-linecap="round" stroke-linejoin="round" stroke-width="2.4"/>
<path d="M1551.4 168.2Q1551.9 175.1 1553.3 179.7" fill="none" stroke="#000" stroke-linecap="round" stroke-linejoin="round" stroke-width="1.0"/>
<path d="M1553.9 67.5Q1591.2 64.1 1634.1 64.5" fill="none" stroke="#000" stroke-linecap="round" stroke-linejoin="round" stroke-width="2.2"/>
<path d="M1555.7 69.0Q1591.2 66.5 1631.0 66.8" fill="none" stroke="#000" stroke-linecap="round" stroke-linejoin="round" stroke-width="1.2"/>
<path d="M1631.3 66.4Q1632.3 126.8 1631.0 181.6" fill="none" stroke="#000" stroke-linecap="round" stroke-linejoin="round" stroke-width="1.5"/>
<path d="M1635.0 65.9Q1633.5 126.8 1634.1 178.9" fill="none" stroke="#000" stroke-linecap="round" stroke-linejoin="round" stroke-width="1.5"/>
<path d="M1551.7 180.4Q1591.2 183.2 1633.8 180.1" fill="none" stroke="#000" stroke-linecap="round" stroke-linejoin="round" stroke-width="2.4"/>
<path d="M1555.3 182.3Q1598.9 181.6 1630.3 178.6" fill="none" stroke="#000" stroke-linecap="round" stroke-linejoin="round" stroke-width="1.2"/>
<path d="M1565.7 78.5Q1594.3 77.2 1621.5 78.8" fill="none" stroke="#000" stroke-linecap="round" stroke-linejoin="round" stroke-width="2.2"/>
<path d="M1566.1 79.7Q1564.6 93.2 1564.9 107.2" fill="none" stroke="#000" stroke-linecap="round" stroke-linejoin="round" stroke-width="1.6"/>
<path d="M1619.4 79.4Q1620.6 93.2 1620.3 106.6" fill="none" stroke="#000" stroke-linecap="round" stroke-linejoin="round" stroke-width="1.4"/>
<path d="M1621.5 77.9Q1621.2 93.2 1621.2 107.9" fill="none" stroke="#000" stroke-linecap="round" stroke-linejoin="round" stroke-width="1.2"/>
<path d="M1562.9 108.8Q1591.2 106.6 1622.8 110.0" fill="none" stroke="#000" stroke-linecap="round" stroke-linejoin="round" stroke-width="1.7"/>
<path d="M1564.9 106.9Q1591.2 107.6 1620.3 105.7" fill="none" stroke="#000" stroke-linecap="round" stroke-linejoin="round" stroke-width="1.6"/>
<path d="M1563.7 131.7Q1591.2 130.2 1620.3 128.7" fill="none" stroke="#000" stroke-linecap="round" stroke-linejoin="round" stroke-width="2.0"/>
<path d="M1566.1 130.8Q1594.3 131.7 1620.0 131.1" fill="none" stroke="#000" stroke-linecap="round" stroke-linejoin="round" stroke-width="1.5"/>
<path d="M1564.9 131.4Q1564.6 145.2 1565.2 157.5" fill="none" stroke="#000" stroke-linecap="round" stroke-linejoin="round" stroke-width="1.8"/>
<path d="M1566.7 133.0Q1566.1 145.2 1567.0 156.7" fill="none" stroke="#000" stroke-linecap="round" stroke-linejoin="round" stroke-width="1.1"/>
<path d="M1618.5 130.7Q1619.7 145.2 1619.4 160.8" fill="none" stroke="#000" stroke-linecap="round" stroke-linejoin="round" stroke-width="1.3"/>
<path d="M1620.6 129.1Q1620.9 142.1 1620.0 157.5" fill="none" stroke="#000" stroke-linecap="round" stroke-linejoin="round" stroke-width="1.2"/>
<path d="M1564.4 157.5Q1594.3 157.5 1623.4 155.3" fill="none" stroke="#000" stroke-linecap="round" stroke-linejoin="round" stroke-width="2.0"/>
<path d="M1566.7 160.2Q1594.3 158.7 1618.8 156.7" fill="none" stroke="#000" stroke-linecap="round" stroke-linejoin="round" stroke-width="1.3"/>
<path d="M1591.2 185.8C1582.8 188.1 1581.3 199.5 1589.7 202.6C1597.4 204.9 1603.5 197.3 1600.4 190.4C1598.1 185.8 1591.2 185.8 1587.4 189.6C1585.1 192.7 1585.9 198.8 1590.5 201.5" fill="none" stroke="#000" stroke-linecap="round" stroke-linejoin="round" stroke-width="1.6"/>
<path d="M1591.2 188.1C1594.3 184.2 1597.4 184.2 1596.1 188.1M1597.4 186.5C1601.9 191.1 1601.9 198.8 1597.4 202.2" fill="none" stroke="#000" stroke-linecap="round" stroke-linejoin="round" stroke-width="1.3"/>
<clipPath id="h2a"><rect x="1665.5" y="45.3" width="89.5" height="160.89999999999998"/></clipPath>
<clipPath id="h2b"><rect x="1665.5" y="45.3" width="84.5" height="163.2"/></clipPath>
<path d="M1663.5 -26.4L1757.0 53.1M1663.5 -8.6L1757.0 70.9M1663.5 9.3L1757.0 88.8M1663.5 27.1L1757.0 106.6M1663.5 45.0L1757.0 124.5M1663.5 62.8L1757.0 142.3M1663.5 80.7L1757.0 160.2M1663.5 98.5L1757.0 178.0M1663.5 116.4L1757.0 195.9M1663.5 134.2L1757.0 213.7M1663.5 152.1L1757.0 231.6M1663.5 169.9L1757.0 249.4M1663.5 187.8L1757.0 267.3M1663.5 205.6L1757.0 285.1" stroke="#15aabf" stroke-width="1.55" fill="none" clip-path="url(#h2a)"/>
<path d="M1666.6 43.3L1521.2 210.5M1684.5 43.3L1539.1 210.5M1702.3 43.3L1556.9 210.5M1720.2 43.3L1574.8 210.5M1738.0 43.3L1592.6 210.5M1755.9 43.3L1610.5 210.5M1773.7 43.3L1628.3 210.5M1791.6 43.3L1646.2 210.5M1809.4 43.3L1664.0 210.5M1827.3 43.3L1681.9 210.5M1845.1 43.3L1699.7 210.5M1863.0 43.3L1717.6 210.5M1880.8 43.3L1735.4 210.5M1898.7 43.3L1753.3 210.5" stroke="#15aabf" stroke-width="1.55" fill="none" clip-path="url(#h2b)"/>
<rect x="1664" y="47.3" width="82.5" height="157.7" rx="1.5" fill="none" stroke="#000" stroke-width="3.2" stroke-linejoin="round"/>
<path d="M1672.3 65.2L1736.3 65.2" stroke="#000" stroke-width="2.8" stroke-linecap="round"/>
<path d="M1672.3 79.8L1736.3 79.8" stroke="#000" stroke-width="2.8" stroke-linecap="round"/>
<path d="M1672.3 94.2L1736.3 94.2" stroke="#000" stroke-width="2.8" stroke-linecap="round"/>
<path d="M1672.3 106.2L1736.3 106.2" stroke="#000" stroke-width="2.8" stroke-linecap="round"/>
<path d="M116.7 1108.8500000000001C125.30 1108.85 126.25 1109.81 126.25 1118.4C126.25 1127.00 125.30 1127.95 116.7 1127.95C108.11 1127.95 107.15 1127.00 107.15 1118.4C107.15 1109.81 108.11 1108.85 116.7 1108.85Z" fill="#125de4"/>
<path d="M116.7 1113.1 L122.0 1123.2 Q116.7 1120.6 111.4 1123.2 Z" fill="#fff" stroke="#fff" stroke-width="1.9" stroke-linejoin="round"/>
<text x="131.6" y="1124.9" font-size="24" fill="#000" text-anchor="start" textLength="69.6" lengthAdjust="spacingAndGlyphs" stroke="#000" stroke-width="0.55">atatus</text>
</svg>
</body>
</html>
